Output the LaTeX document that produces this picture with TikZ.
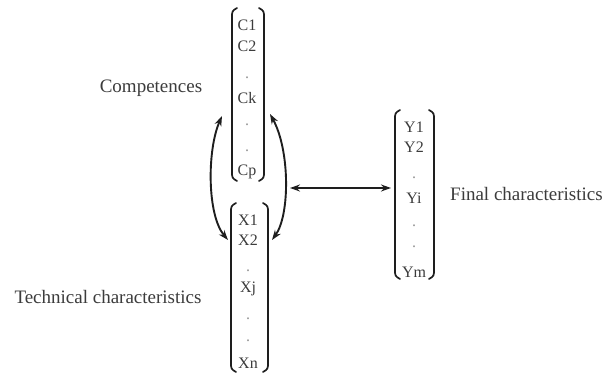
\documentclass[tikz,border=0pt]{standalone}
\usepackage{fontspec}
\setmainfont{Liberation Serif}
\usetikzlibrary{arrows.meta}
\definecolor{txtc}{RGB}{60,60,60}
\definecolor{dotc}{RGB}{150,150,150}
\definecolor{linec}{RGB}{30,30,30}
\begin{document}
\begin{tikzpicture}[x=1pt,y=-1pt,
  lbl/.style={font=\fontsize{19}{19}\selectfont, text=txtc, inner sep=0pt},
  ent/.style={font=\fontsize{16}{16}\selectfont, text=txtc, inner sep=0pt},
  vdot/.style={font=\fontsize{16}{16}\selectfont, text=dotc, inner sep=0pt},
  brk/.style={line width=1.7pt, draw=linec, line cap=round},
  arr/.style={line width=1.9pt, draw=linec, {Stealth[length=10pt,width=7pt]}-{Stealth[length=10pt,width=7pt]}}
]
\useasboundingbox[fill=white] (0,0) rectangle (603,374);

% left parenthesis: #1 x, #2 top, #3 bottom
\newcommand{\lparen}[3]{\draw[brk] (#1+5,#2) .. controls (#1,#2+3) .. (#1,#2+10) -- (#1,#3-10) .. controls (#1,#3-3) .. (#1+5,#3);}
\newcommand{\rparen}[3]{\draw[brk] (#1-5,#2) .. controls (#1,#2+3) .. (#1,#2+10) -- (#1,#3-10) .. controls (#1,#3-3) .. (#1-5,#3);}

% Competences vector
\lparen{232}{8}{181}
\rparen{264}{8}{181}
\node[ent] (c1) at (247,25) {C1};
\node[ent] (c2) at (247,46) {C2};
\node[vdot] (cd1) at (247,78) {.};
\node[ent] (ck) at (247,98) {Ck};
\node[vdot] (cd2) at (247,125) {.};
\node[vdot] (cd3) at (247,151) {.};
\node[ent] (cp) at (247,172) {Cp};

% Technical characteristics vector
\lparen{231}{203}{372}
\rparen{268}{203}{372}
\node[ent] (x1) at (248,220) {X1};
\node[ent] (x2) at (248,240) {X2};
\node[vdot] (xd1) at (248,271) {.};
\node[ent] (xj) at (248,289) {Xj};
\node[vdot] (xd2) at (248,319) {.};
\node[vdot] (xd3) at (248,341) {.};
\node[ent] (xn) at (248,363) {Xn};

% Final characteristics vector
\lparen{395}{110}{279}
\rparen{434}{110}{279}
\node[ent] (y1) at (414,127) {Y1};
\node[ent] (y2) at (414,147) {Y2};
\node[vdot] (yd1) at (414,178) {.};
\node[ent] (yi) at (414,198) {Yi};
\node[vdot] (yd2) at (414,226) {.};
\node[vdot] (yd3) at (414,247) {.};
\node[ent] (ym) at (414,272) {Ym};

% labels
\node[lbl] (lc) at (151,88) {Competences};
\node[lbl] (lt) at (108,297) {Technical characteristics};
\node[lbl, anchor=west] (lf) at (450,194) {Final characteristics};

% connectors
\coordinate (ltop) at (222,116);
\coordinate (lbot) at (228,240);
\coordinate (rtop) at (270,114);
\coordinate (rbot) at (272,240);
\coordinate (cxgap) at (290,188);
\coordinate (yleft) at (391,188);

\draw[arr] (lbot) .. controls (207,215) and (207,150) .. (ltop);
\draw[arr] (rtop) .. controls (290,150) and (290,215) .. (rbot);
\draw[arr] (cxgap) -- (yleft);
\end{tikzpicture}
\end{document}
